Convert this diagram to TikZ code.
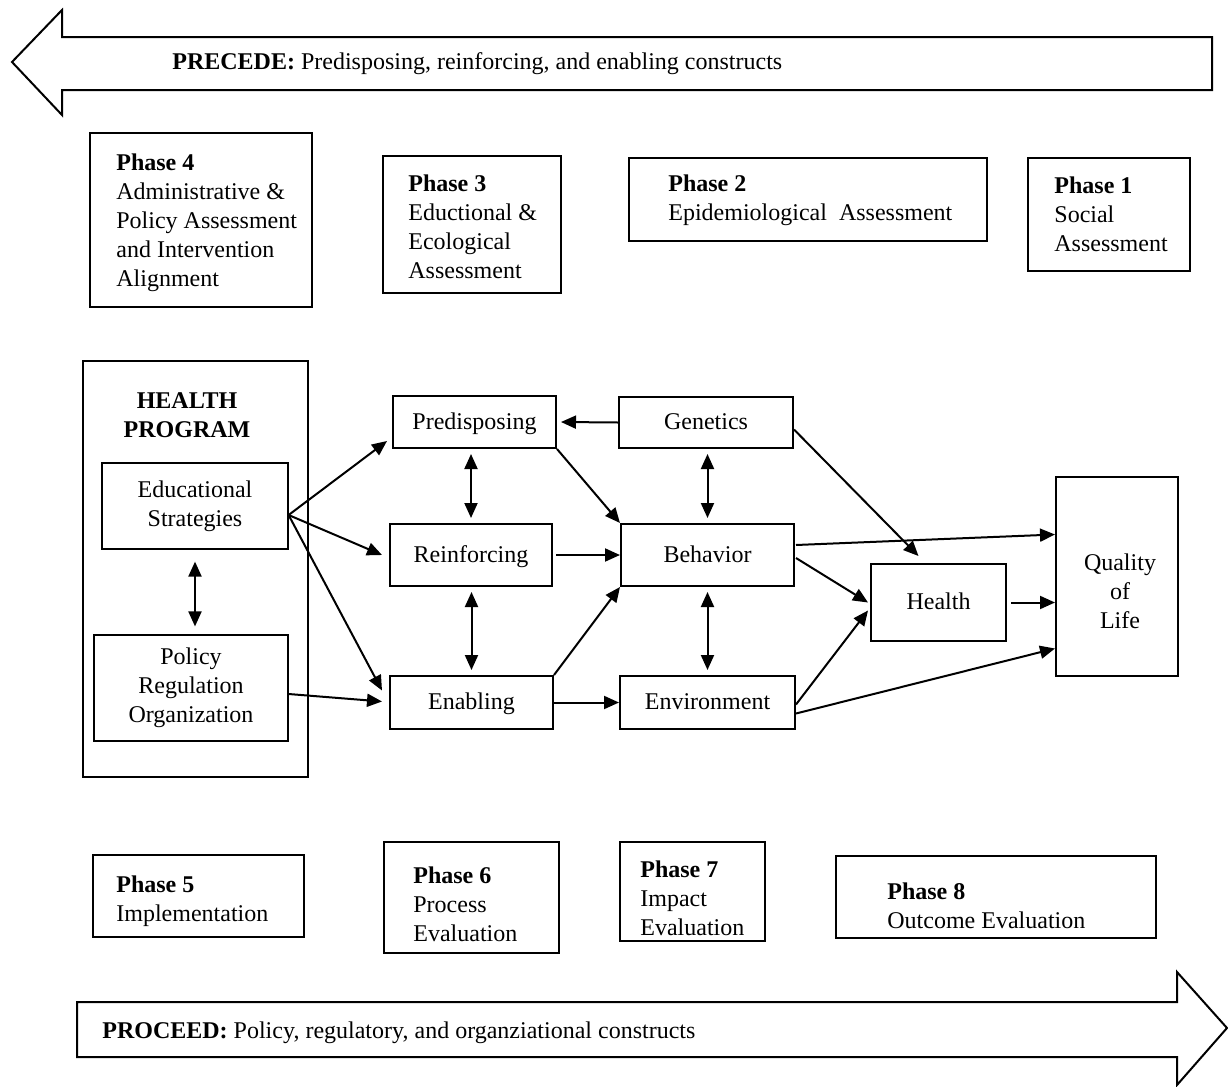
\documentclass[tikz,border=0pt]{standalone}
\usepackage{fontspec}
\setmainfont{Liberation Serif}
\usetikzlibrary{arrows.meta,fit,calc}

\begin{document}
\begin{tikzpicture}[x=0.5pt,y=-0.5pt,
    txt/.style={font=\fontsize{12}{14.5}\selectfont},
    box/.style={draw, line width=1pt, inner sep=0pt, txt, align=center},
    oneline/.style={text height=8.5pt, text depth=1.5pt},
    thinbox/.style={draw, line width=0.6pt, inner sep=0pt, txt, align=center},
    phasetxt/.style={txt, align=left, anchor=west, inner sep=0pt},
    arr/.style={-{Triangle[length=7.5pt,width=6.5pt]}, line width=1pt},
    dbl/.style={{Triangle[length=7.5pt,width=6.5pt]}-{Triangle[length=7.5pt,width=6.5pt]},
        line width=1pt, shorten <=2.5pt, shorten >=2.5pt},
    bigarrow/.style={draw, line width=1pt, line join=miter}]

    \useasboundingbox (0,0) rectangle (1228,1087);

    % PRECEDE arrow
    \draw[bigarrow] (12,62) -- (62,10) -- (62,37) -- (1212,37) -- (1212,90) -- (62,90) -- (62,115) -- cycle;
    \node[phasetxt] (precede) at (172,64) {\textbf{PRECEDE:} Predisposing, reinforcing, and enabling constructs};

    % Phases 4 to 1
    \node[box, fit={(90,133) (312,307)}] (ph4) {};
    \node[phasetxt] (ph4t) at (116,223) {\textbf{Phase 4}\\Administrative \&\\Policy Assessment\\and Intervention\\Alignment};
    \node[box, fit={(383,156) (561,293)}] (ph3) {};
    \node[phasetxt] (ph3t) at (408,227) {\textbf{Phase 3}\\Eductional \&\\Ecological\\Assessment};
    \node[box, fit={(629,158) (987,241)}] (ph2) {};
    \node[phasetxt] (ph2t) at (668,200) {\textbf{Phase 2}\\Epidemiological~ Assessment};
    \node[box, fit={(1028,158) (1190,271)}] (ph1) {};
    \node[phasetxt] (ph1t) at (1054,214) {\textbf{Phase 1}\\Social\\Assessment};

    % Health program
    \node[box, fit={(83,361) (308,777)}] (hp) {};
    \node[txt, align=center, inner sep=0pt] (hptitle) at (187,415) {\textbf{HEALTH}\\\textbf{PROGRAM}};
    \node[thinbox, minimum width=93pt, minimum height=43pt] (edu) at (195,506) {Educational\\Strategies};
    \node[thinbox, minimum width=97pt, minimum height=53pt] (pol) at (191,688) {Policy\\Regulation\\Organization};

    % Determinants
    \node[box, oneline, minimum width=81.5pt, minimum height=26pt] (pred) at (474.5,422) {Predisposing};
    \node[box, oneline, minimum width=81pt, minimum height=31pt] (reinf) at (471,555) {Reinforcing};
    \node[box, oneline, minimum width=81.5pt, minimum height=26.5pt] (enab) at (471.5,702.5) {Enabling};
    \node[box, oneline, minimum width=87pt, minimum height=25.5pt] (gen) at (706,422.5) {Genetics};
    \node[box, oneline, minimum width=86.5pt, minimum height=31pt] (beh) at (707.5,555) {Behavior};
    \node[box, oneline, minimum width=87.5pt, minimum height=26.5pt] (env) at (707.5,702.5) {Environment};
    \node[box, oneline, minimum width=67.5pt, minimum height=38.5pt] (health) at (938.5,602.5) {Health};
    \node[box, minimum width=61pt, minimum height=99.5pt] (qol) at (1117,576.5) {};
    \node[txt, align=center, inner sep=0pt] (qolt) at (1120,591) {Quality\\of\\Life};

    % Program arrows
    \coordinate (eduout) at ($(edu.east)+(0,9)$);
    \draw[arr] (eduout) -- ($(pred.south west)+(-5,-8)$);
    \draw[arr] (eduout) -- ($(reinf.west)+(-7,0)$);
    \draw[arr] (eduout) -- ($(enab.west)+(-7,-12)$);
    \draw[arr] ($(pol.east)+(0,6)$) -- ($(enab.west)+(-7,-1)$);
    \draw[dbl, shorten <=6pt, shorten >=4pt] (edu.south) -- (edu.south |- pol.north);

    % Determinant arrows
    \draw[arr] (gen.west) -- ($(pred.east)+(4,0)$);
    \draw[arr] (pred.south east) -- (beh.north west);
    \draw[arr] ($(reinf.east)+(3,0)$) -- (beh.west);
    \draw[arr] (enab.north east) -- (beh.south west);
    \draw[arr] (enab.east) -- (env.west);
    \draw[dbl] (reinf.north |- pred.south) -- (reinf.north);
    \draw[dbl] (reinf.south -| enab.north) -- (enab.north);
    \draw[dbl] (beh.north |- gen.south) -- (beh.north);
    \draw[dbl] (beh.south) -- (beh.south |- env.north);

    % Outcome arrows
    \draw[arr] ($(gen.east)+(0,7)$) -- ($(health.north)+(-20,-7)$);
    \draw[arr] ($(beh.east)+(1,-10)$) -- ($(qol.west)+(0,-42)$);
    \draw[arr] ($(beh.east)+(1,3)$) -- ($(health.west)+(-2,0)$);
    \draw[arr] ($(env.east)+(0,2)$) -- ($(health.west)+(-2,8)$);
    \draw[arr] ($(env.east)+(0,11)$) -- ($(qol.west)+(0,72)$);
    \draw[arr, shorten <=2pt] (health.east) -- (health.east -| qol.west);

    % Phases 5 to 8
    \node[box, fit={(93,855) (304,937)}] (ph5) {};
    \node[phasetxt] (ph5t) at (116,901) {\textbf{Phase 5}\\Implementation};
    \node[box, fit={(384,842) (559,953)}] (ph6) {};
    \node[phasetxt] (ph6t) at (413,904) {\textbf{Phase 6}\\Process\\Evaluation};
    \node[box, fit={(620,842) (765,941)}] (ph7) {};
    \node[phasetxt] (ph7t) at (640,898) {\textbf{Phase 7}\\Impact\\Evaluation};
    \node[box, fit={(836,856) (1156,938)}] (ph8) {};
    \node[phasetxt] (ph8t) at (887,906) {\textbf{Phase 8}\\Outcome Evaluation};

    % PROCEED arrow
    \draw[bigarrow] (77,1002) -- (1177,1002) -- (1177,972) -- (1227,1028) -- (1177,1085) -- (1177,1057) -- (77,1057) -- cycle;
    \node[phasetxt] (proceed) at (102,1033) {\textbf{PROCEED:} Policy, regulatory, and organziational constructs};
\end{tikzpicture}
\end{document}
